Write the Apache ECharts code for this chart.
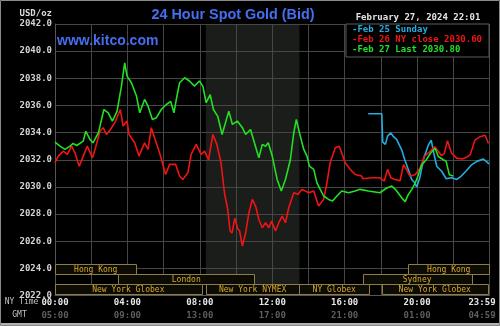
<!DOCTYPE html>
<html>
<head>
<meta charset="utf-8">
<script src="https://cdn.jsdelivr.net/npm/echarts@6/dist/echarts.min.js"></script>
<style>
  html, body { margin: 0; padding: 0; background: #000; }
  #chart { width: 500px; height: 326px; }
</style>
</head>
<body>
<div id="chart"></div>
<script>
// Hours are New York time (0 = midnight, 24 = end of day); prices in USD/oz.

// Feb 25 (Sunday evening open)
const sundayHours = [17.3, 18.05, 18.1, 18.25, 18.37, 18.55, 18.7, 18.87, 19.05, 19.15, 19.32, 19.52,
  19.7, 19.87, 19.98, 20.15, 20.37, 20.63, 20.78, 20.92, 21.09, 21.36, 21.61, 21.9, 22.2, 22.44,
  22.71, 22.99, 23.3, 23.66, 23.8, 23.97];
const sundayBid = [2035.39, 2035.39, 2033.3, 2033.13, 2033.74, 2033.98, 2033.7, 2033.5, 2033.0, 2032.73, 2032.0, 2031.27,
  2030.55, 2030.3, 2030.0, 2030.67, 2032.12, 2033.1, 2033.45, 2032.5, 2031.5, 2031.15, 2030.6, 2030.67, 2030.55, 2030.8,
  2031.17, 2031.6, 2031.88, 2032.05, 2031.9, 2031.7];

// Feb 26 (full day, NY close at 17:00)
const mondayHours = [0.0, 0.18, 0.46, 0.68, 0.92, 1.1, 1.34, 1.56, 1.78, 2.07, 2.26, 2.48, 2.66, 2.84, 3.06, 3.3,
  3.61, 3.76, 3.98, 4.09, 4.4, 4.64, 4.95, 5.14, 5.32, 5.5, 5.78, 6.11, 6.33, 6.66, 6.88, 7.06, 7.34, 7.52, 7.8,
  8.07, 8.26, 8.48, 8.72, 8.94, 9.17, 9.36, 9.54, 9.67, 9.78, 9.93, 10.1, 10.2, 10.35, 10.53, 10.71, 10.9, 11.08,
  11.26, 11.45, 11.63, 11.81, 11.96, 12.18, 12.36, 12.55, 12.73, 12.91, 13.19, 13.42, 13.64, 14.01, 14.29, 14.56,
  14.84, 15.02, 15.2, 15.48, 15.7, 15.84, 16.03, 16.3, 16.58, 16.94, 17.0, 17.49, 17.95, 18.19, 18.37, 18.55,
  18.77, 19.06, 19.25, 19.41, 19.6, 19.89, 20.17, 20.4, 20.7, 20.97, 21.18, 21.35, 21.5, 21.68, 21.9, 22.18,
  22.5, 22.75, 22.93, 23.2, 23.48, 23.76, 23.94];
const mondayBid = [2031.78, 2032.27, 2032.64, 2032.4, 2033.0, 2032.5, 2031.53, 2032.27, 2033.0, 2032.15, 2033.0, 2034.1,
  2034.36, 2033.86, 2034.23, 2034.72, 2035.7, 2034.48, 2034.85, 2033.86, 2033.25, 2032.27, 2033.25, 2032.76, 2034.36,
  2033.62, 2032.5, 2030.92, 2031.66, 2031.66, 2030.8, 2030.55, 2031.04, 2032.4, 2033.13, 2032.4, 2032.64, 2032.0,
  2033.86, 2033.13, 2031.78, 2029.57, 2028.34, 2026.75, 2026.6, 2027.7, 2026.9, 2026.75, 2025.64, 2026.6, 2028.1,
  2029.08, 2028.59, 2027.6, 2026.99, 2027.36, 2026.99, 2027.48, 2026.75, 2027.36, 2027.85, 2027.36, 2028.47, 2029.57,
  2029.45, 2029.82, 2029.57, 2029.7, 2028.59, 2029.08, 2030.3, 2031.78, 2032.88, 2033.0, 2032.5, 2031.78, 2031.29,
  2030.92, 2030.8, 2030.6, 2030.67, 2030.67, 2030.43, 2031.29, 2030.67, 2030.55, 2030.45, 2031.64, 2031.29, 2030.8,
  2030.9, 2031.4, 2032.24, 2032.6, 2032.95, 2032.6, 2032.3, 2032.45, 2033.4, 2032.5, 2032.12, 2032.05, 2032.2,
  2032.36, 2033.45, 2033.7, 2033.8, 2033.2];
const nyCloseHour = 17.0;

// Feb 27 (today, up to the last quote)
const todayHours = [0.0, 0.28, 0.55, 0.83, 1.0, 1.2, 1.56, 1.7, 1.93, 2.1, 2.4, 2.7, 2.94, 3.17, 3.43, 3.67, 3.85,
  3.98, 4.22, 4.5, 4.68, 4.95, 5.14, 5.38, 5.6, 5.87, 6.15, 6.39, 6.57, 6.7, 6.88, 7.16, 7.43, 7.7, 7.98, 8.17,
  8.35, 8.57, 8.75, 8.99, 9.23, 9.6, 9.8, 10.07, 10.35, 10.53, 10.8, 10.99, 11.26, 11.45, 11.63, 11.78, 12.0,
  12.27, 12.5, 12.73, 13.0, 13.19, 13.33, 13.5, 13.74, 13.92, 14.05, 14.29, 14.47, 14.65, 14.84, 15.11, 15.33,
  15.57, 15.84, 16.21, 16.58, 16.85, 17.31, 17.95, 18.3, 18.6, 18.8, 19.15, 19.34, 19.5, 19.7, 19.9, 20.05,
  20.24, 20.51, 20.75, 21.0, 21.17, 21.45, 21.6, 21.78, 22.0];
const todayBid = [2033.3, 2033.0, 2032.76, 2033.0, 2033.2, 2033.05, 2033.37, 2034.1, 2033.5, 2033.25, 2034.0, 2035.7,
  2035.46, 2034.85, 2035.58, 2037.42, 2039.14, 2038.16, 2037.67, 2036.7, 2035.46, 2036.44, 2035.95, 2034.97, 2035.1,
  2035.7, 2036.07, 2036.3, 2035.46, 2036.44, 2037.67, 2038.04, 2037.8, 2037.42, 2037.8, 2037.4, 2036.2, 2036.8,
  2035.7, 2035.2, 2033.86, 2035.58, 2034.6, 2034.85, 2034.36, 2033.86, 2034.23, 2033.37, 2032.15, 2033.13, 2033.0,
  2033.25, 2032.27, 2030.55, 2029.7, 2030.55, 2032.0, 2033.99, 2034.97, 2033.99, 2032.76, 2032.27, 2031.53, 2031.29,
  2030.3, 2029.82, 2029.33, 2029.08, 2028.96, 2029.33, 2029.7, 2029.57, 2029.7, 2029.82, 2029.7, 2029.57, 2029.9,
  2030.06, 2029.82, 2029.2, 2028.9, 2029.4, 2029.8, 2030.3, 2030.8, 2031.6, 2032.0, 2032.5, 2032.85, 2032.24,
  2032.0, 2031.9, 2030.9, 2030.8];

// Price axis
const priceMin = 2022, priceMax = 2042, priceStep = 2;

// Time axis labels (NY time on top, GMT underneath)
const timeTickHours = [0, 4, 8, 12, 16, 20, 24];
const nyTimeLabels = ['00:00', '04:00', '08:00', '12:00', '16:00', '20:00', '23:59'];
const gmtTimeLabels = ['05:00', '09:00', '13:00', '17:00', '21:00', '01:00', '04:59'];

// Trading sessions (row 0 = top strip)
const sessionNames = ['Hong Kong', 'London', 'New York Globex', 'New York NYMEX', 'NY Globex', 'New York Globex', 'Sydney', 'Hong Kong'];
const sessionOpen  = [0, 3.5, 0, 8.33, 13.5, 18.05, 17.0, 19.5];
const sessionClose = [4.5, 11.0, 8.1, 13.5, 17.35, 23.9, 23.0, 24.0];
const sessionRow   = [0, 1, 2, 2, 2, 2, 1, 0];

// NYMEX floor hours, shaded behind the lines
const nymexFloor = [8.33, 13.5];

const pairs = (xs, ys) => xs.map((x, i) => [x, ys[i]]);
const nyClose = mondayBid[mondayHours.indexOf(nyCloseHour)];
const lastQuote = todayBid[todayBid.length - 1];

const COLOR_SUN = '#22aee0';
const COLOR_MON = '#f01414';
const COLOR_TUE = '#22e022';
const MONO = '"DejaVu Sans Mono", monospace';

const nameSun = 'Feb 25 Sunday';
const nameMon = 'Feb 26 NY close ' + nyClose.toFixed(2);
const nameTue = 'Feb 27 Last ' + lastQuote.toFixed(2);

const chart = echarts.init(document.getElementById('chart'));

chart.setOption({
  animation: false,
  backgroundColor: '#000',
  grid: { left: 55, right: 10.5, top: 24, bottom: 30.5, containLabel: false, outerBoundsMode: 'none' },
  legend: {
    orient: 'vertical', left: 346, top: 24,
    padding: [1, 7, 2, 0], itemGap: 0,
    itemWidth: 1, itemHeight: 1, icon: 'rect',
    itemStyle: { opacity: 0 },
    backgroundColor: '#000', borderColor: '#5c5c5c', borderWidth: 1,
    selectedMode: false,
    formatter: n => '-' + n,
    textStyle: { fontFamily: MONO, fontSize: 9, fontWeight: 'bold', lineHeight: 10 },
    data: [
      { name: nameSun, textStyle: { color: COLOR_SUN } },
      { name: nameMon, textStyle: { color: COLOR_MON } },
      { name: nameTue, textStyle: { color: COLOR_TUE } }
    ]
  },
  xAxis: {
    type: 'value', min: 0, max: 24, interval: 2,
    axisLine: { show: true, lineStyle: { color: '#555' } },
    axisTick: { show: false },
    splitLine: { show: true, lineStyle: { color: '#464646', width: 1 } },
    axisLabel: {
      margin: 1, showMinLabel: true, showMaxLabel: true,
      lineHeight: 12.5,
      formatter: v => {
        const i = timeTickHours.indexOf(v);
        if (i < 0) return '';
        const last = i === timeTickHours.length - 1;
        return last
          ? '{nyEnd|' + nyTimeLabels[i] + '}\n{gmtEnd|' + gmtTimeLabels[i] + '}'
          : '{ny|' + nyTimeLabels[i] + '}\n{gmt|' + gmtTimeLabels[i] + '}';
      },
      rich: {
        ny: { fontFamily: MONO, fontSize: 9, fontWeight: 'bold', color: '#e6e6e6', lineHeight: 12.5 },
        gmt: { fontFamily: MONO, fontSize: 9, fontWeight: 'bold', color: '#5e5e5e', lineHeight: 12.5 },
        nyEnd: { fontFamily: MONO, fontSize: 9, fontWeight: 'bold', color: '#e6e6e6', lineHeight: 12.5, padding: [0, 15, 0, 0] },
        gmtEnd: { fontFamily: MONO, fontSize: 9, fontWeight: 'bold', color: '#5e5e5e', lineHeight: 12.5, padding: [0, 15, 0, 0] }
      }
    }
  },
  yAxis: {
    type: 'value', min: priceMin, max: priceMax, interval: priceStep,
    axisLine: { show: true, lineStyle: { color: '#555' } },
    axisTick: { show: false },
    splitLine: { show: true, lineStyle: { color: '#464646', width: 1 } },
    axisLabel: {
      margin: 3, color: '#d4d4d4', fontFamily: MONO, fontSize: 9, fontWeight: 'bold',
      formatter: v => v.toFixed(1)
    }
  },
  graphic: [
    { type: 'text', x: 52, y: 13.5, style: { text: 'USD/oz', align: 'right', verticalAlign: 'middle', fill: '#dcdcdc', font: 'bold 9px ' + MONO } },
    { type: 'text', x: 233, y: 15, style: { text: '24 Hour Spot Gold (Bid)', align: 'center', verticalAlign: 'middle', fill: '#456ef0', font: 'bold 14.4px "Liberation Sans", Arial, sans-serif' } },
    { type: 'text', x: 57, y: 41, z: 10, style: { text: 'www.kitco.com', align: 'left', verticalAlign: 'middle', fill: '#456ef0', font: 'bold 14px "Liberation Sans", Arial, sans-serif' } },
    { type: 'text', x: 418, y: 17.5, style: { text: 'February 27, 2024 22:01', align: 'center', verticalAlign: 'middle', fill: '#e4e4e4', font: 'bold 9px ' + MONO } },
    { type: 'text', x: 21.5, y: 302, style: { text: 'NY Time', align: 'center', verticalAlign: 'middle', fill: '#c4c4c4', font: '8px ' + MONO } },
    { type: 'text', x: 19.5, y: 314.5, style: { text: 'GMT', align: 'center', verticalAlign: 'middle', fill: '#c4c4c4', font: '8px ' + MONO } },
    { type: 'rect', shape: { x: 0, y: 323, width: 500, height: 3 }, style: { fill: '#b0b0b0' }, z: 100 },
    { type: 'rect', shape: { x: 0.5, y: 0.5, width: 499, height: 325 }, style: { fill: null, stroke: '#8a8a8a', lineWidth: 1 }, z: 100 }
  ],
  series: [
    {
      type: 'custom', name: 'nymex-floor', silent: true, z: -1,
      data: [[nymexFloor[0], nymexFloor[1]]],
      encode: { x: [0, 1] },
      renderItem: (params, api) => {
        const a = api.coord([api.value(0), priceMax]);
        const b = api.coord([api.value(1), priceMin]);
        return { type: 'rect', shape: { x: a[0], y: a[1], width: b[0] - a[0], height: b[1] - a[1] }, style: { fill: '#1a1d1a' } };
      }
    },
    {
      type: 'custom', name: 'sessions', silent: true, z: 5,
      data: sessionOpen.map((o, i) => [o, sessionClose[i], sessionRow[i]]),
      encode: { x: [0, 1] },
      renderItem: (params, api) => {
        const row = api.value(2);
        const x0 = api.coord([api.value(0), priceMin])[0];
        const x1 = api.coord([api.value(1), priceMin])[0];
        const base = api.coord([0, priceMin])[1];
        const rowH = 10;
        const top = Math.round(base - 1.5 - (3 - row) * rowH);
        return {
          type: 'group',
          children: [
            { type: 'rect', shape: { x: Math.round(x0) + 0.5, y: top + 0.5, width: Math.round(x1 - x0), height: rowH },
              style: { fill: '#0c0b04', stroke: '#8e7c4a', lineWidth: 1 } },
            { type: 'text', style: { text: sessionNames[params.dataIndex], x: (x0 + x1) / 2, y: top + rowH / 2 + 1,
              align: 'center', verticalAlign: 'middle', fill: '#d8aa2a', font: '8px ' + MONO } }
          ]
        };
      }
    },
    {
      type: 'line', name: nameSun, data: pairs(sundayHours, sundayBid),
      showSymbol: false, color: COLOR_SUN, lineStyle: { width: 1.6, color: COLOR_SUN }, z: 3
    },
    {
      type: 'line', name: nameMon, data: pairs(mondayHours, mondayBid),
      showSymbol: false, color: COLOR_MON, lineStyle: { width: 1.6, color: COLOR_MON }, z: 3
    },
    {
      type: 'line', name: nameTue, data: pairs(todayHours, todayBid),
      showSymbol: false, color: COLOR_TUE, lineStyle: { width: 1.6, color: COLOR_TUE }, z: 3
    }
  ]
});
</script>
</body>
</html>
